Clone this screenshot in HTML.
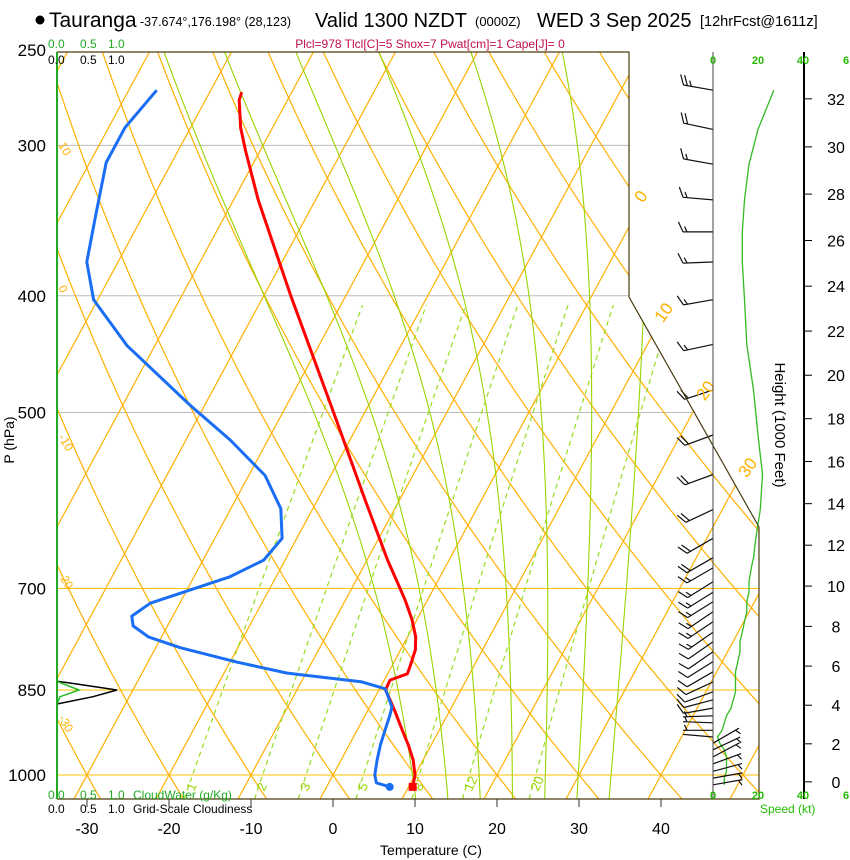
<!DOCTYPE html>
<html><head><meta charset="utf-8"><style>
html,body{margin:0;padding:0;background:#fff;}
svg{display:block;font-family:"Liberation Sans",sans-serif;}
</style></head><body>
<svg id="chart" width="850" height="860" viewBox="0 0 850 860" xmlns="http://www.w3.org/2000/svg">
<defs><clipPath id="plotclip"><polygon points="57,52 629,52 629,297 759,527 759,799 57,799"/></clipPath></defs>
<g id="header">
<circle cx="40" cy="20" r="4.5" fill="#000"/>
<text x="49" y="27" font-size="21">Tauranga</text>
<text x="140" y="26" font-size="12.5">-37.674°,176.198° (28,123)</text>
<text x="315" y="27" font-size="20">Valid 1300 NZDT</text>
<text x="475" y="26" font-size="13">(0000Z)</text>
<text x="537" y="27" font-size="20">WED 3 Sep 2025</text>
<text x="700" y="26" font-size="14.5">[12hrFcst@1611z]</text>
<text x="430" y="48" font-size="12" fill="#c0104e" text-anchor="middle">Plcl=978 Tlcl[C]=5 Shox=7 Pwat[cm]=1 Cape[J]= 0</text>
</g>
<g id="grid" clip-path="url(#plotclip)"></g>
<g id="marks"></g>
<g id="axes"></g>
</svg>
<script>
// ---- data ----
const tempP = [271,275,290,303,333,400,500,591,663,700,716,743,768,787,810,824,834,850,866,886,918,944,972,1000,1023];
const tempC = [-56.1,-55.9,-53.9,-51.8,-47,-36.7,-23.8,-14.2,-7.5,-4.1,-2.7,-0.6,1.0,1.8,2.2,2.4,0.7,0.8,2.0,3.4,5.5,7.2,8.8,10.0,10.5];
const dewP = [270,290,310,346,375,403,440,493,527,564,601,636,663,685,720,738,752,768,784,806,823,837,848,878,892,918,944,972,1000,1015,1023];
const dewC = [-66.6,-68,-68,-65.6,-63.8,-60.5,-53.4,-41.8,-34.6,-28,-23.9,-21.8,-22.6,-25.7,-33.6,-35,-34.2,-31.6,-27,-19.1,-12.3,-2.6,0.7,2.7,3.0,3.4,3.8,4.4,5.1,5.8,7.7];
const windP = [270,291,311,333,354,375,403,439,479,522,563,602,636,660,673,691,705,718,732,746,761,775,790,805,821,837,853,866,880,893,905,918,930,941,953,966,979,993,1006,1019];
const windDir = [280,282,280,275,270,268,260,258,252,250,250,245,240,240,240,238,238,238,236,236,235,235,235,238,240,245,250,255,260,268,272,270,275,60,65,62,70,75,80,80];
const windSpd = [27,20,16,14,13,13,14,15,18,20,22,21,19,18,17,16,16,15,15,14,13,12,12,11,10,10,10,9,8,6,5,4,2,3,5,6,6,6,5,5];
const cloudP = [836,840,850,861,873];
const cloudFrac = [0,0.3,1.0,0.6,0];
const cloudWater = [0,0.1,0.37,0.05,0];
const pressTicks = [250,300,400,500,700,850,1000];
const tempTicks = [-30,-20,-10,0,10,20,30,40];
const heightTicks = [0,2,4,6,8,10,12,14,16,18,20,22,24,26,28,30,32];
const mixRatios = [1,2,3,5,8,12,20];
const speedTicks = [0,20,40];

// ---- axis functions ----
const NS='http://www.w3.org/2000/svg';
function Y(p){return 775+523*Math.log(p/1000);}
function X(T,p){return 333+8.2*T+0.54*(775-Y(p));}
function el(tag,attrs,parent){const e=document.createElementNS(NS,tag);for(const k in attrs)e.setAttribute(k,attrs[k]);parent.appendChild(e);return e;}
const grid=document.getElementById('grid'),marks=document.getElementById('marks'),axes=document.getElementById('axes');
const PTOP=250,PBOT=1047;
function pts(arr){return arr.map(a=>a[0].toFixed(1)+','+a[1].toFixed(1)).join(' ');}

// isobars
[[1000,'#ffc000'],[850,'#ffc000'],[700,'#ffc000'],[500,'#bbbbbb'],[400,'#bbbbbb'],[300,'#bbbbbb']].forEach(([p,c])=>{
  const l=el('line',{x1:57,x2:760,y1:Y(p),y2:Y(p),stroke:c,'stroke-width':1},grid);
  
  
});
// isotherms
for(let T=-120;T<=50;T+=10){
  const l=el('line',{x1:X(T,PBOT),y1:Y(PBOT),x2:X(T,PTOP),y2:Y(PTOP),stroke:'#ffb000','stroke-width':1.2},grid);
  
  
}
// dry adiabats
for(let th=-60;th<=200;th+=10){
  const a=[];for(let p=PBOT;p>=PTOP-5;p-=10){const T=(th+273.15)*Math.pow(p/1000,0.286)-273.15;a.push([X(T,p),Y(p)]);}
  const l=el('polyline',{points:pts(a),fill:'none',stroke:'#ffb000','stroke-width':1.2},grid);
  
  
}
// moist adiabats
function es(Tc){return 6.112*Math.exp(17.67*Tc/(Tc+243.5));}
for(let k=-1;k<=5;k++){
  let T=15.6+3.93*k+273.15;const a=[];
  for(let p=PBOT;p>=PTOP-5;p-=5){
    a.push([X(T-273.15,p),Y(p)]);
    const e=es(T-273.15),rs=0.622*e/(p-e);
    const d=(287.04*T+2.501e6*rs)/(p*(1005.7+2.501e6*2.501e6*rs*0.622/(287.04*T*T)));
    T-=5*d;
  }
  const l=el('polyline',{points:pts(a),fill:'none',stroke:'#99d400','stroke-width':1.1},grid);
  
  
}
// mixing ratio lines
function tdw(w,p){const e=w*p/(622+w);const a=Math.log(e/6.112);return 243.5*a/(17.67-a);}
mixRatios.forEach(w=>{
  const a=[];for(let p=PBOT;p>=400;p-=10)a.push([X(tdw(w,p),p),Y(p)]);
  const l=el('polyline',{points:pts(a),fill:'none',stroke:'#99dd22','stroke-width':1.2,'stroke-dasharray':'5,4'},grid);
  
  
  const lx=X(tdw(w,1025),1025)+6,ly=Y(1025)+4;
  const t=el('text',{x:lx,y:ly,'font-size':13,fill:'#99d400',transform:'rotate(-65 '+lx+' '+ly+')'},grid);
  t.textContent=w;
  
  
});
// isotherm labels right / dry adiabat labels left
[[0,200],[10,320],[20,398],[30,475]].forEach(([T,y])=>{
  const t=el('text',{x:[638,658,700,742][T/10],y:y+6,'font-size':17,fill:'#ffb000',transform:'rotate(-55 '+[638,658,700,742][T/10]+' '+y+')'},axes);
  t.textContent=T;
  
  
});
[[10,145],[0,288],[-10,437],[-20,575],[-30,718]].forEach(([th,y])=>{
  const t=el('text',{x:58,y:y,'font-size':12,fill:'#ffb000',transform:'rotate(60 58 '+y+')'},axes);
  t.textContent=th;
  
  
});

// frame
const fr=el('polyline',{points:'57,52 629,52 629,297 759,527 759,799 57,799',fill:'none',stroke:'#4a3c10','stroke-width':1.2},axes);


const cax=el('line',{x1:57,y1:52,x2:57,y2:799,stroke:'#22aa22','stroke-width':2},axes);


const sax=el('line',{x1:713,y1:52,x2:713,y2:799,stroke:'#444','stroke-width':1},axes);


const hax=el('line',{x1:804,y1:52,x2:804,y2:799,stroke:'#000','stroke-width':2},axes);



// pressure ticks
pressTicks.forEach(p=>{
  const t=el('text',{x:46,y:Y(p)+6,'font-size':17,'text-anchor':'end'},axes);
  t.textContent=p;
  
  
});
const pl=el('text',{x:14,y:440,'font-size':14,'text-anchor':'middle',transform:'rotate(-90 14 440)'},axes);
pl.textContent='P (hPa)';


// temp ticks
tempTicks.forEach(T=>{
  const x=333+8.2*T;
  const tk=el('line',{x1:x,x2:x,y1:799,y2:807,stroke:'#333'},axes);
  
  
  const t=el('text',{x:x,y:834,'font-size':16,'text-anchor':'middle'},axes);
  t.textContent=T;
  
  
});
const tl=el('text',{x:431,y:855,'font-size':14,'text-anchor':'middle'},axes);
tl.textContent='Temperature (C)';


// height ticks
function pStd(ft){const z=ft*1000*0.3048;return 1013.25*Math.pow(1-6.5e-3*z/288.15,5.2559);}
heightTicks.forEach(h=>{
  const y=Y(pStd(h));
  const tk=el('line',{x1:804,x2:812,y1:y,y2:y,stroke:'#000'},axes);
  
  
  const t=el('text',{x:836,y:y+6,'font-size':16,'text-anchor':'middle'},axes);
  t.textContent=h;
  
  
});
const hl=el('text',{x:775,y:425,'font-size':15,'text-anchor':'middle',transform:'rotate(90 775 425)'},axes);
hl.textContent='Height (1000 Feet)';


// speed ticks top and bottom
speedTicks.forEach(s=>{
  const x=713+2.25*s;
  [64,799].forEach(y=>{
    const t=el('text',{x:x,y:y,'font-size':11,'font-weight':'bold',fill:'#22bb00','text-anchor':'middle'},axes);
    t.textContent=s;
    
    
  });
});
[64,799].forEach(y=>{const t=el('text',{x:846,y:y,'font-size':11,'font-weight':'bold',fill:'#22bb00','text-anchor':'middle'},axes);t.textContent='6';
  
  });
const sl=el('text',{x:760,y:813,'font-size':12,fill:'#22bb00'},axes);
sl.textContent='Speed (kt)';


// cloud scale labels
[['0.0',48],['0.5',80],['1.0',108]].forEach(([s,x])=>{
  const a=el('text',{x:x,y:48,'font-size':12,fill:'#22aa22'},axes);a.textContent=s;
  
  
  const b=el('text',{x:x,y:64,'font-size':12},axes);b.textContent=s;
  
  
  const c=el('text',{x:x,y:799,'font-size':12,fill:'#22aa22'},axes);c.textContent=s;
  
  
  const d=el('text',{x:x,y:813,'font-size':12},axes);d.textContent=s;
  
  
});
const cw=el('text',{x:133,y:799,'font-size':12,fill:'#22aa22'},axes);cw.textContent='CloudWater (g/Kg)';


const cg=el('text',{x:133,y:813,'font-size':12},axes);cg.textContent='Grid-Scale Cloudiness';



// cloud profiles
const cf=el('polyline',{points:pts(cloudP.map((p,i)=>[57+60*cloudFrac[i],Y(p)])),fill:'none',stroke:'#000','stroke-width':1.5},marks);


const cwp=el('polyline',{points:pts(cloudP.map((p,i)=>[57+60*cloudWater[i],Y(p)])),fill:'none',stroke:'#22bb22','stroke-width':1.5},marks);



// temperature and dewpoint
const tline=el('polyline',{points:pts(tempP.map((p,i)=>[X(tempC[i],p),Y(p)])),fill:'none',stroke:'#ff0000','stroke-width':3,'stroke-linejoin':'round'},marks);


const dline=el('polyline',{points:pts(dewP.map((p,i)=>[X(dewC[i],p),Y(p)])),fill:'none',stroke:'#1a6ef5','stroke-width':3,'stroke-linejoin':'round'},marks);


const tn=tempP.length-1,dn=dewP.length-1;
const tm=el('rect',{x:X(tempC[tn],tempP[tn])-4,y:Y(tempP[tn])-4,width:8,height:8,fill:'#ff0000'},marks);


const dm=el('circle',{cx:X(dewC[dn],dewP[dn]),cy:Y(dewP[dn]),r:4,fill:'#1a6ef5'},marks);



// wind speed profile
const sp=el('polyline',{points:pts(windP.map((p,i)=>[713+2.25*windSpd[i],Y(p)])),fill:'none',stroke:'#33bb22','stroke-width':1.3},marks);


// wind barbs
windP.forEach((p,i)=>{
  const d=windDir[i]*Math.PI/180,ux=Math.sin(d),uy=-Math.cos(d);
  const bx=713,by=Y(p),L=30,tx=bx+ux*L,ty=by+uy*L;
  const a=65*Math.PI/180,vx=ux*Math.cos(a)-uy*Math.sin(a),vy=ux*Math.sin(a)+uy*Math.cos(a);
  let s='M'+bx+','+by.toFixed(1)+'L'+tx.toFixed(1)+','+ty.toFixed(1);
  let spd=Math.round(windSpd[i]/5)*5,pos=0;
  while(spd>=10){const px=tx-ux*pos,py=ty-uy*pos;s+='M'+px.toFixed(1)+','+py.toFixed(1)+'l'+(vx*11).toFixed(1)+','+(vy*11).toFixed(1);pos+=4;spd-=10;}
  if(spd>=5){if(pos===0)pos=4;const px=tx-ux*pos,py=ty-uy*pos;s+='M'+px.toFixed(1)+','+py.toFixed(1)+'l'+(vx*6).toFixed(1)+','+(vy*6).toFixed(1);}
  const b=el('path',{d:s,fill:'none',stroke:'#111','stroke-width':1.2},marks);
  
  
});
</script>
</body></html>
